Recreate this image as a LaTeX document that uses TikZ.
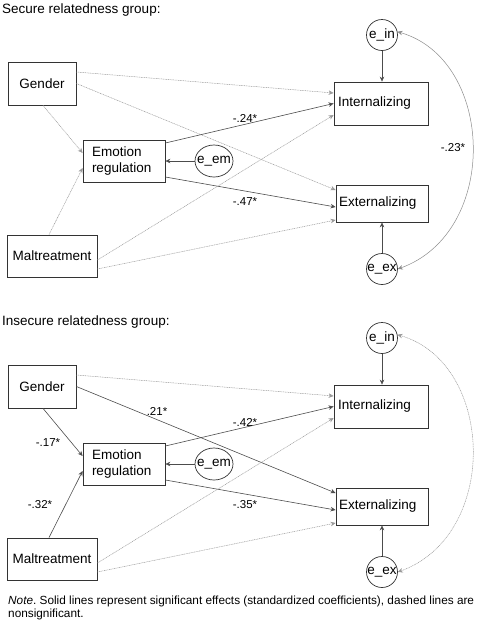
\documentclass[tikz,border=0pt]{standalone}
\usepackage{fontspec}
\setmainfont{Liberation Sans}
\usetikzlibrary{arrows.meta,shapes.geometric}

\newcommand\semtextstyle{\fontsize{13.5}{16.5}\selectfont}
\newcommand\semcoefstyle{\fontsize{11.5}{13}\selectfont}
\newcommand\semnotestyle{\fontsize{11.8}{12.5}\selectfont}

\tikzset{
  semvar/.style={draw=black!80, line width=0.8pt, font=\semtextstyle, inner sep=0pt, minimum height=43pt},
  semerr/.style={draw=black!80, line width=0.7pt, circle, font=\semtextstyle, inner sep=0pt, minimum size=31pt},
  sigpath/.style={draw=black!70, line width=0.6pt, -{Stealth[length=5pt,width=4.5pt]}},
  nspath/.style={draw=black!40, line width=0.5pt, dash pattern=on 1pt off 0.7pt, -{Stealth[length=5pt,width=4.5pt]}},
  covsig/.style={draw=black!45, line width=0.5pt, {Stealth[length=5pt,width=4.5pt]}-{Stealth[length=5pt,width=4.5pt]}},
  covns/.style={nspath, {Stealth[length=5pt,width=4.5pt]}-{Stealth[length=5pt,width=4.5pt]}},
  coef/.style={font=\semcoefstyle, inner sep=0pt},
}

% one path model, #1 = prefix of the node names
\newcommand\semnodes[1]{
  \node[semvar, minimum width=68pt] (#1gen) at (42, 83.5) {Gender};
  \node[semvar, text width=86pt, inner xsep=4pt, align=left] (#1int) at (381, 103.5) {Internalizing};
  \node[semvar, text width=64pt, inner xsep=9pt, align=left, minimum height=42pt] (#1emo) at (124, 161) {Emotion\\regulation};
  \node[semvar, text width=86pt, inner xsep=3pt, align=left, minimum height=37pt] (#1ext) at (382, 203.5) {Externalizing};
  \node[semvar, minimum width=90pt, minimum height=42pt] (#1mal) at (52, 256) {Maltreatment};
  \node[semerr] (#1ein) at (382, 35) {\makebox[0pt]{e\_in}};
  \node[semerr, ellipse, minimum width=38pt, minimum height=32pt] (#1em) at (214, 161) {\makebox[0pt]{e\_em}};
  \node[semerr] (#1eex) at (382, 269) {\makebox[0pt]{e\_ex}};
}
% #2 = style of the paths into emotion regulation and gender -> externalizing, #3 = covariance
\newcommand\semedges[3]{
  \draw[nspath] ([yshift=11.5pt]#1gen.east) -- ([yshift=10.5pt]#1int.west);
  \draw[#2] (#1gen.east) -- ([yshift=13.5pt]#1ext.west);
  \draw[#2] ([xshift=1pt]#1gen.south) -- ([yshift=8pt]#1emo.west);
  \draw[sigpath] ([yshift=18pt]#1emo.east) -- (#1int.west);
  \draw[sigpath] ([yshift=-16pt]#1emo.east) -- ([yshift=-3.5pt]#1ext.west);
  \draw[#2] ([xshift=-3pt]#1mal.north) -- ([yshift=-7pt]#1emo.west);
  \draw[nspath] ([yshift=-4pt]#1mal.east) -- ([yshift=-11.5pt]#1int.west);
  \draw[nspath] ([yshift=-13pt]#1mal.east) -- ([yshift=-16.5pt]#1ext.west);
  \draw[sigpath] (#1em.west) -- (#1emo.east);
  \draw[sigpath] (#1ein.south) -- (#1int.north -| #1ein.south);
  \draw[sigpath] (#1eex.north) -- (#1ext.south -| #1eex.north);
  \draw[#3] (#1ein.12) .. controls (495, 60) and (500, 232) .. (#1eex.east);
}

\begin{document}
\begin{tikzpicture}[x=1pt, y=-1pt]
  \useasboundingbox (0, 0) rectangle (478, 630);

  % secure group
  \node[anchor=west, inner sep=0pt, font=\semtextstyle] (stitle) at (2, 10) {Secure relatedness group:};
  \semnodes{s}
  \semedges{s}{nspath}{covsig}
  \node[coef] (scei) at (245, 118) {-.24*};
  \node[coef] (scee) at (245, 202) {-.47*};
  \node[coef] (scov) at (453, 148) {-.23*};

  % insecure group
  \node[anchor=west, inner sep=0pt, font=\semtextstyle] (ititle) at (2, 322) {Insecure relatedness group:};
  \begin{scope}[shift={(0, 303)}]
    \semnodes{i}
    \semedges{i}{sigpath}{covns}
    \node[coef] (icge) at (157, 108) {.21*};
    \node[coef] (icei) at (245, 119) {-.42*};
    \node[coef] (icgm) at (48, 140) {-.17*};
    \node[coef] (icmm) at (40, 202) {-.32*};
    \node[coef] (icee) at (245, 202) {-.35*};
  \end{scope}

  \node[anchor=north west, inner sep=0pt, align=left, font=\semnotestyle] (note) at (8, 596)
    {\textit{Note}.\ Solid lines represent significant effects (standardized coefficients), dashed lines are\\nonsignificant.};
\end{tikzpicture}
\end{document}
